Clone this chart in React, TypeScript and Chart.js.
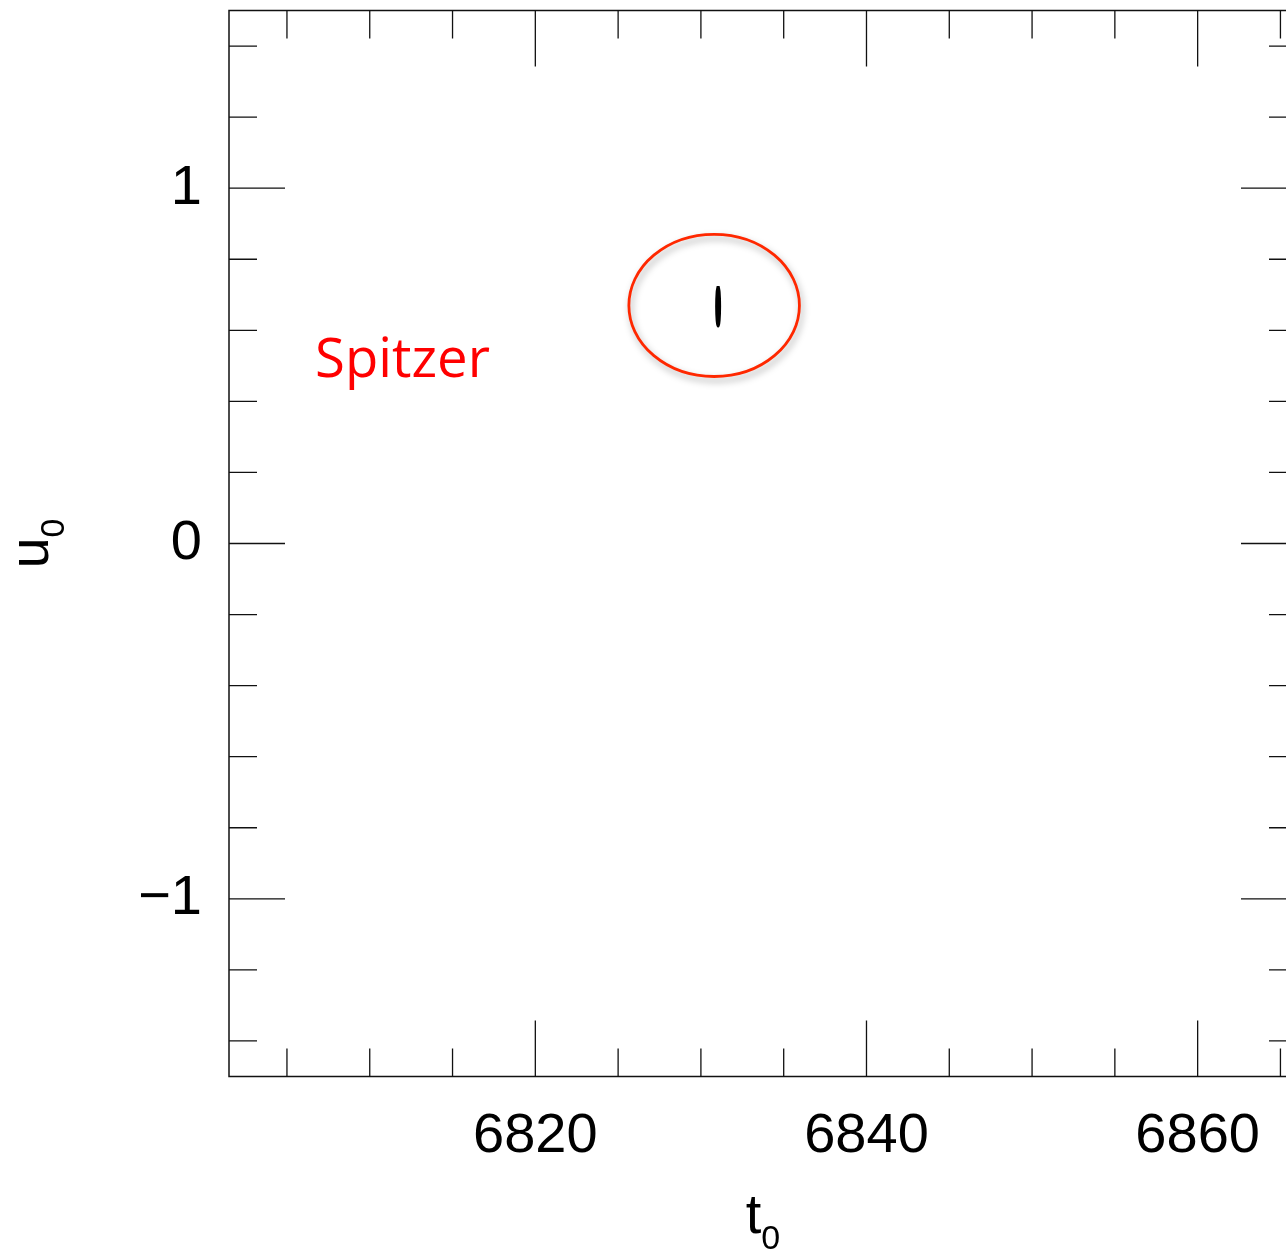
import { useEffect, useRef } from "react";
import { Chart, registerables } from "chart.js";

Chart.register(...registerables);

// Axis ranges
const t0Min = 6801.5;
const t0Max = 6866;
const u0Min = -1.5;
const u0Max = 1.5;

// Tick positions (labelled majors and unlabelled minors)
const t0MajorTicks = [6820, 6840, 6860];
const t0MinorTicks = [6805, 6810, 6815, 6825, 6830, 6835, 6845, 6850, 6855, 6865];
const u0MajorTicks = [-1, 0, 1];
const u0MinorTicks = [-1.4, -1.2, -0.8, -0.6, -0.4, -0.2, 0.2, 0.4, 0.6, 0.8, 1.2, 1.4];

// Spitzer-only solution: closed confidence contour in (t0, u0)
const contourT0 = [6831.04, 6831.1, 6831.13, 6831.1, 6831.04, 6830.98, 6830.95, 6830.98, 6831.04];
const contourU0 = [0.724, 0.708, 0.668, 0.628, 0.612, 0.628, 0.668, 0.708, 0.724];

// Red ring highlighting the contour
const ringCenterT0 = 6830.8;
const ringCenterU0 = 0.67;
const ringHalfT0 = 5.15;
const ringHalfU0 = 0.2;

// In-plot label
const panelLabel = "Spitzer";
const panelLabelT0 = 6806.7;
const panelLabelU0 = 0.468;

const axisFont = '"Liberation Sans", Arial, Helvetica, sans-serif';
const MAJOR_LEN = 56;
const MINOR_LEN = 28;

const fmt = (v: number) => (v < 0 ? "\u2212" + Math.abs(v) : String(v));

const framePlugin = {
  id: "frame",
  afterDraw(chart: any) {
    const { ctx, chartArea } = chart;
    const xs = chart.scales.x;
    const ys = chart.scales.y;
    const { left, right, top, bottom } = chartArea;

    ctx.save();
    // Frame
    ctx.strokeStyle = "#111";
    ctx.lineWidth = 1.5;
    ctx.beginPath();
    ctx.moveTo(right, top);
    ctx.lineTo(left, top);
    ctx.lineTo(left, bottom);
    ctx.lineTo(right, bottom);
    ctx.lineTo(right, top);
    ctx.stroke();

    // Inward ticks on all four sides
    ctx.lineWidth = 1.3;
    const vTick = (v: number, len: number) => {
      const px = xs.getPixelForValue(v);
      ctx.beginPath();
      ctx.moveTo(px, bottom);
      ctx.lineTo(px, bottom - len);
      ctx.moveTo(px, top);
      ctx.lineTo(px, top + len);
      ctx.stroke();
    };
    const hTick = (v: number, len: number) => {
      const py = ys.getPixelForValue(v);
      ctx.beginPath();
      ctx.moveTo(left, py);
      ctx.lineTo(left + len, py);
      ctx.moveTo(right, py);
      ctx.lineTo(right - len, py);
      ctx.stroke();
    };
    t0MajorTicks.forEach((v) => vTick(v, MAJOR_LEN));
    t0MinorTicks.forEach((v) => vTick(v, MINOR_LEN));
    u0MajorTicks.forEach((v) => hTick(v, MAJOR_LEN));
    u0MinorTicks.forEach((v) => hTick(v, MINOR_LEN));

    // Highlight ring with a soft drop shadow
    const cx = xs.getPixelForValue(ringCenterT0);
    const cy = ys.getPixelForValue(ringCenterU0);
    const rx = Math.abs(xs.getPixelForValue(ringCenterT0 + ringHalfT0) - cx);
    const ry = Math.abs(ys.getPixelForValue(ringCenterU0 + ringHalfU0) - cy);
    ctx.save();
    ctx.shadowColor = "rgba(0,0,0,0.35)";
    ctx.shadowBlur = 7;
    ctx.shadowOffsetX = 2;
    ctx.shadowOffsetY = 4;
    ctx.strokeStyle = "rgb(255,40,0)";
    ctx.lineWidth = 2.8;
    ctx.beginPath();
    ctx.ellipse(cx, cy, rx, ry, 0, 0, Math.PI * 2);
    ctx.stroke();
    ctx.restore();

    // Panel label
    ctx.fillStyle = "#ff0000";
    ctx.font = '54.5px "Open Sans", "Noto Sans", sans-serif';
    ctx.textBaseline = "alphabetic";
    ctx.textAlign = "left";
    ctx.fillText(panelLabel, xs.getPixelForValue(panelLabelT0), ys.getPixelForValue(panelLabelU0));

    // Axis titles with subscripts
    ctx.fillStyle = "#000";
    const mainFont = `56px ${axisFont}`;
    const subFont = `34px ${axisFont}`;
    const drawSub = (base: string, sub: string, x: number, y: number) => {
      ctx.font = mainFont;
      const w1 = ctx.measureText(base).width;
      ctx.font = subFont;
      const w2 = ctx.measureText(sub).width;
      const start = x - (w1 + w2) / 2;
      ctx.font = mainFont;
      ctx.fillText(base, start, y);
      ctx.font = subFont;
      ctx.fillText(sub, start + w1, y + 16);
    };
    ctx.textAlign = "left";
    ctx.textBaseline = "alphabetic";
    drawSub("t", "0", (left + right) / 2, bottom + 156.5);

    ctx.save();
    ctx.translate(48, (top + bottom) / 2);
    ctx.rotate(-Math.PI / 2);
    drawSub("u", "0", 0, 0);
    ctx.restore();

    ctx.restore();
  },
};

export default function App() {
  const ref = useRef<HTMLCanvasElement | null>(null);

  useEffect(() => {
    document.body.style.margin = "0";
    document.body.style.overflow = "hidden";
    const canvas = ref.current;
    if (!canvas) return;
    const chart = new Chart(canvas, {
      type: "scatter",
      data: {
        datasets: [
          {
            label: "Spitzer contour",
            data: contourT0.map((t, i) => ({ x: t, y: contourU0[i] })),
            showLine: true,
            borderColor: "#000",
            borderWidth: 3,
            pointRadius: 0,
            tension: 0.4,
            fill: false,
          },
        ],
      },
      options: {
        animation: false,
        responsive: false,
        devicePixelRatio: 1,
        layout: { padding: { top: 10.5, right: 3, left: 0, bottom: 0 } },
        plugins: {
          legend: { display: false },
          tooltip: { enabled: false },
        },
        scales: {
          x: {
            type: "linear",
            position: "bottom",
            min: t0Min,
            max: t0Max,
            grid: { display: false, drawTicks: false },
            border: { display: false },
            ticks: {
              color: "#000",
              font: { family: axisFont, size: 56 },
              padding: 26,
              maxRotation: 0,
              autoSkip: false,
              callback: (v: any) => fmt(Number(v)),
            },
            afterBuildTicks: (s: any) => {
              s.ticks = t0MajorTicks.map((v) => ({ value: v }));
            },
            afterFit: (s: any) => {
              s.height = 176.5;
              s.paddingLeft = 0;
              s.paddingRight = 0;
            },
          },
          y: {
            type: "linear",
            position: "left",
            min: u0Min,
            max: u0Max,
            grid: { display: false, drawTicks: false },
            border: { display: false },
            ticks: {
              color: "#000",
              font: { family: axisFont, size: 56 },
              padding: 27,
              autoSkip: false,
              callback: (v: any) => fmt(Number(v)),
            },
            afterBuildTicks: (s: any) => {
              s.ticks = u0MajorTicks.map((v) => ({ value: v }));
            },
            afterFit: (s: any) => {
              s.width = 229;
              s.paddingTop = 0;
              s.paddingBottom = 0;
            },
          },
        },
      },
      plugins: [framePlugin],
    });
    return () => chart.destroy();
  }, []);

  return (
    <div style={{ width: 1286, height: 1253, overflow: "hidden", position: "relative", background: "#fff" }}>
      <canvas ref={ref} width={1300} height={1253} style={{ display: "block", width: 1300, height: 1253 }} />
    </div>
  );
}
